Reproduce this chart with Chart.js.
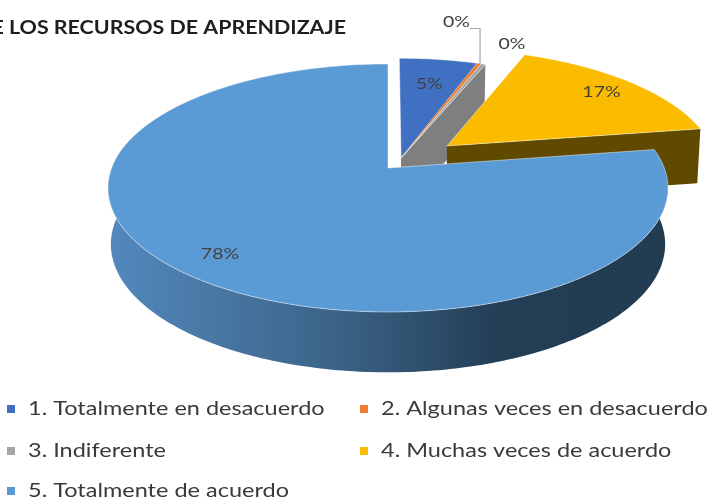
<!DOCTYPE html>
<html><head><meta charset="utf-8">
<style>html,body{margin:0;padding:0;background:#fff;overflow:hidden}canvas{display:block;filter:blur(0.7px)}</style>
<script src="https://cdn.jsdelivr.net/npm/chart.js@4/dist/chart.umd.min.js"></script>
</head><body><canvas id="c" width="709" height="501"></canvas>
<script>
const titleText = "E LOS RECURSOS DE APRENDIZAJE";
const categories = ["1. Totalmente en desacuerdo","2. Algunas veces en desacuerdo","3. Indiferente","4. Muchas veces de acuerdo","5. Totalmente de acuerdo"];
const values = [5.4,0.3,0.3,16.5,77.5];
const colors = ["#4070C2","#ED7D31","#A5A5A5","#FBBC00","#5B9BD5"];
const sideColors = ["#2A4A80","#9C5220","#7F7F7F","#604A00","#3B6288"];

// view of the 3D pie: projection of the unit disc
const V = {x0:388,y0:168,a:276.3,b:120.8,p:0.161};
const explode = [[.048,-.084,.98],[.048,-.084,.98],[.048,-.084,.98],[.22,-.188,.985],[0,0,1]];
const labelR = [.71,1.44,1.25,.82,.84];
const labelShift = [0,-9.6,2,0,0];
const legendSpots = [[7,409],[360,409],[7,451],[360,451],[7,491]];

function upper(u,v){const w=1-V.p*v;return [V.x0+V.a*u/w,V.y0+V.b*v/w];}
function low(q){return [388+.99*(q[0]-388),223.6+1.033*(q[1]-168)];}
function onDisc(i,deg,r){const e=explode[i],t=deg*Math.PI/180;return upper(e[0]+r*e[2]*Math.sin(t),e[1]-r*e[2]*Math.cos(t));}
function degs(el){return [el.startAngle*180/Math.PI+90,el.endAngle*180/Math.PI+90];}
function poly(ctx,pts,fill,stroke){ctx.beginPath();pts.forEach((q,k)=>k?ctx.lineTo(q[0],q[1]):ctx.moveTo(q[0],q[1]));ctx.closePath();
  if(fill){ctx.fillStyle=fill;ctx.fill();} if(stroke){ctx.strokeStyle=stroke;ctx.lineWidth=1;ctx.stroke();}}
function rim(i,a,b){const r=[];const n=Math.max(2,Math.ceil(Math.abs(b-a)));for(let k=0;k<=n;k++)r.push(onDisc(i,a+(b-a)*k/n,1));return r;}
function wideText(ctx,t,x,y,sx){ctx.save();ctx.translate(x,y);ctx.scale(sx,1);ctx.fillText(t,0,0);ctx.restore();}

const pie3d = {id:'pie3d',
 beforeDatasetDraw(chart){
  const ctx=chart.ctx, arcs=chart.getDatasetMeta(0).data;
  const faceCut=(i,deg)=>{const A=onDisc(i,0,0),B=onDisc(i,deg,1);poly(ctx,[A,B,low(B),low(A)],sideColors[i]);};
  const face=(i)=>{const [a,b]=degs(arcs[i]);poly(ctx,[onDisc(i,0,0),...rim(i,a,b)],colors[i],i==1?null:"rgba(255,255,255,.45)");};
  // far slices first
  const [a2,b2]=degs(arcs[2]);
  faceCut(2,b2);
  face(0);face(1);face(2);
  const [a3,b3]=degs(arcs[3]);
  faceCut(3,b3);
  face(3);
  // big slice: curved side with horizontal shading, then its top
  const [a4,b4]=degs(arcs[4]);
  const g=ctx.createLinearGradient(112,0,663,0);
  g.addColorStop(0,"#5288BC");g.addColorStop(.4,"#3C6488");g.addColorStop(.7,"#233E55");g.addColorStop(1,"#223C52");
  const side=rim(4,a4,285);
  poly(ctx,[...side,...side.map(low).reverse()],g);
  face(4);
  return false;
 },
 afterDraw(chart){
  const ctx=chart.ctx, arcs=chart.getDatasetMeta(0).data;
  const total=values.reduce((s,v)=>s+v,0);
  ctx.save();
  ctx.textBaseline="middle";
  // leader line to the orange slice
  const [oa,ob]=degs(arcs[1]);
  const tip=onDisc(1,(oa+ob)/2,1);
  ctx.strokeStyle="#A6A6A6";ctx.lineWidth=1.2;ctx.beginPath();ctx.moveTo(470,tip[1]-35);ctx.lineTo(tip[0]+1,tip[1]-35);ctx.lineTo(tip[0]+1,tip[1]);ctx.stroke();
  // value labels
  ctx.font="16px Lato";ctx.fillStyle="#404040";ctx.textAlign="center";
  arcs.forEach((el,i)=>{const [a,b]=degs(el);const q=onDisc(i,(a+b)/2+labelShift[i],labelR[i]/explode[i][2]);
    wideText(ctx,Math.round(values[i]/total*100)+"%",q[0],q[1],1.22);});
  // title
  ctx.font="bold 18px Lato";ctx.fillStyle="#1E1E1E";ctx.textAlign="right";
  wideText(ctx,titleText,346,28,1.19);
  // legend
  ctx.textAlign="left";ctx.font="18.5px Lato";
  categories.forEach((t,i)=>{const [x,y]=legendSpots[i];ctx.fillStyle=colors[i];ctx.fillRect(x,y-4,8,8);ctx.fillStyle="#3A3A3A";wideText(ctx,t,x+21,y,1.27);});
  ctx.restore();
 }};

new Chart(document.getElementById('c'),{type:'pie',
 data:{labels:categories,datasets:[{data:values,backgroundColor:colors,borderWidth:0}]},
 options:{responsive:false,animation:false,plugins:{legend:{display:false},title:{display:false},tooltip:{enabled:false}}},
 plugins:[pie3d]});
</script></body></html>
